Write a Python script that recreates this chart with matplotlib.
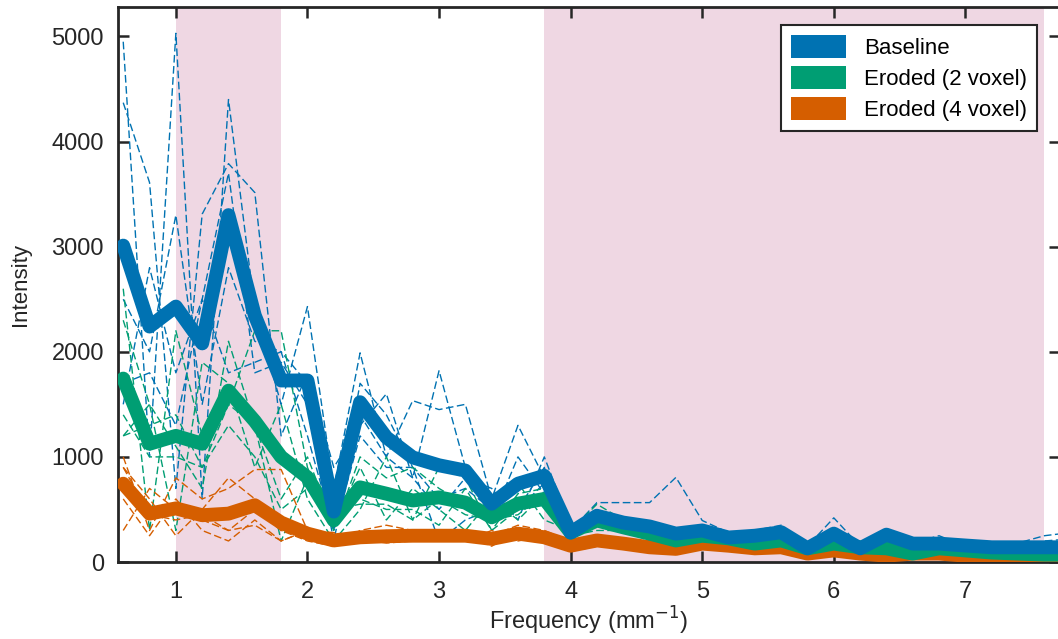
import numpy as np
import matplotlib
matplotlib.use("Agg")
import matplotlib.pyplot as plt
from matplotlib.patches import Patch

plt.rcParams['font.family'] = ['Liberation Sans', 'DejaVu Sans']

# spatial frequency samples (mm^-1)
freq = np.arange(0.6, 7.81, 0.2)

# group means (thick lines)
baseline = [3010, 2240, 2430, 2080, 3300, 2345, 1727, 1727, 480, 1520, 1185, 995, 920,
            870, 555, 745, 820, 280, 440, 375, 338, 270, 300, 233, 250, 283, 130, 270,
            130, 260, 175, 175, 157, 140, 140, 140, 140]
eroded2 = [1745, 1125, 1200, 1125, 1630, 1340, 1000, 805, 395, 710, 650, 585, 615, 565,
           425, 555, 600, 280, 395, 330, 270, 205, 250, 225, 175, 205, 130, 175, 140,
           130, 80, 130, 110, 90, 80, 70, 70]
eroded4 = [745, 460, 510, 445, 460, 540, 375, 270, 205, 235, 245, 250, 250, 250, 220,
           270, 235, 155, 205, 175, 140, 125, 175, 155, 130, 140, 80, 110, 80, 60, 80,
           80, 60, 45, 45, 45, 45]

# individual traces (thin dashed lines)
baseline_subj = [
    [4950, 1000, 5030, 600, 4400, 2400, 1500, 2430, 700, 1990, 1000, 1535, 1450, 1500, 600,
     1300, 800, 300, 565, 565, 565, 805, 395, 280, 300, 350, 150, 420, 150, 300, 200, 150,
     200, 150, 180, 250, 280],
    [4370, 3610, 700, 3310, 3790, 3515, 1200, 1800, 900, 1300, 1600, 800, 1820, 900, 400,
     1000, 650, 250, 420, 300, 250, 200, 280, 150, 250, 280, 120, 330, 100, 280, 180, 250,
     150, 100, 120, 200, 220],
    [2500, 2000, 3300, 1500, 2800, 2100, 2000, 1200, 300, 1700, 1400, 900, 600, 700, 500,
     500, 900, 200, 450, 350, 300, 200, 250, 250, 200, 300, 100, 300, 120, 250, 150, 180,
     130, 160, 150, 100, 120],
    [1500, 2800, 1800, 2500, 3700, 1800, 1900, 1500, 200, 1400, 1000, 800, 500, 800, 700,
     400, 1000, 350, 400, 400, 350, 200, 300, 250, 250, 250, 150, 200, 130, 250, 160, 150,
     160, 150, 140, 80, 60],
    [1700, 1800, 1300, 2500, 1800, 1900, 2000, 1700, 300, 1200, 900, 900, 200, 400, 500,
     500, 750, 300, 350, 300, 200, 150, 250, 200, 250, 200, 100, 150, 150, 200, 170, 150,
     150, 130, 100, 60, 40],
]
eroded2_subj = [
    [2600, 300, 2200, 1200, 1500, 2200, 2200, 900, 300, 1000, 800, 900, 700, 550, 500, 750,
     400, 300, 550, 400, 300, 200, 300, 250, 150, 250, 100, 300, 150, 150, 100, 200, 120,
     150, 100, 80, 90],
    [2300, 1500, 300, 1900, 1700, 900, 1500, 600, 200, 500, 1000, 400, 900, 800, 300, 650,
     700, 250, 400, 350, 250, 150, 200, 200, 200, 300, 150, 200, 120, 150, 150, 100, 100,
     100, 80, 70, 60],
    [1200, 1500, 1100, 700, 2100, 1300, 600, 1000, 350, 900, 400, 700, 500, 300, 600, 400,
     650, 300, 350, 300, 300, 250, 250, 200, 200, 150, 130, 150, 150, 100, 50, 120, 100,
     80, 80, 60, 70],
    [1400, 1000, 1000, 900, 1300, 1000, 500, 700, 600, 600, 500, 500, 350, 700, 300, 500,
     600, 250, 300, 300, 250, 250, 250, 250, 150, 150, 150, 100, 150, 120, 60, 100, 120,
     50, 60, 70, 60],
    [1200, 1300, 1400, 900, 1500, 1300, 200, 800, 500, 550, 550, 400, 600, 450, 400, 450,
     650, 300, 350, 300, 250, 180, 250, 220, 180, 180, 120, 120, 130, 130, 40, 130, 110,
     70, 80, 70, 70],
]
eroded4_subj = [
    [1000, 300, 800, 600, 700, 880, 880, 300, 150, 300, 350, 300, 200, 300, 250, 350, 300,
     200, 250, 200, 150, 100, 200, 150, 150, 150, 80, 150, 80, 60, 100, 80, 60, 50, 50, 40, 40],
    [900, 600, 250, 500, 800, 600, 300, 250, 200, 200, 300, 200, 300, 200, 300, 200, 250,
     150, 200, 150, 150, 150, 150, 200, 100, 150, 60, 100, 100, 50, 60, 100, 50, 40, 50, 50, 40],
    [600, 250, 600, 300, 200, 400, 200, 300, 250, 200, 200, 300, 250, 250, 150, 300, 200,
     100, 150, 200, 100, 100, 150, 150, 150, 120, 100, 80, 60, 70, 80, 60, 70, 50, 40, 50, 50],
    [300, 700, 500, 400, 300, 500, 300, 200, 150, 250, 200, 250, 250, 200, 200, 250, 200,
     150, 220, 150, 150, 130, 180, 120, 120, 140, 80, 120, 80, 60, 80, 80, 60, 40, 40, 40, 50],
    [900, 450, 400, 450, 300, 350, 200, 300, 280, 220, 180, 200, 250, 300, 200, 250, 220,
     170, 200, 170, 150, 140, 190, 150, 130, 140, 80, 100, 80, 60, 80, 80, 60, 45, 45, 45, 45],
]

labels = ['Baseline', 'Eroded (2 voxel)', 'Eroded (4 voxel)']
colors = ['#0072B2', '#009E73', '#D55E00']
bands = [(1.0, 1.8), (3.8, 7.6)]
shade = '#EFD7E3'

fig = plt.figure(figsize=(10.58, 6.39), dpi=100)
ax = fig.add_axes([0.1115, 0.1205, 0.8905, 0.8685])

for lo, hi in bands:
    ax.axvspan(lo, hi, color=shade, lw=0, zorder=0)

for subj, c in zip([baseline_subj, eroded2_subj, eroded4_subj], colors):
    for s in subj:
        ax.plot(freq, s, color=c, lw=1.0, ls=(0, (5.5, 2.5)), zorder=2)

for mean, c in zip([eroded4, eroded2, baseline], colors[::-1]):
    ax.plot(freq, mean, color=c, lw=10, solid_joinstyle='round',
            solid_capstyle='round', zorder=3)

ax.set_xlim(0.56, 7.72)
ax.set_ylim(0, 5280)
ax.set_xticks(range(1, 8))
ax.set_yticks(range(0, 5001, 1000))
ax.tick_params(direction='in', length=8, width=1.8, top=True, right=True,
               labelsize=17, colors='#262626', pad=10)
ax.tick_params(axis='x', pad=14)
for sp in ax.spines.values():
    sp.set_linewidth(2)
    sp.set_color('#262626')

ax.set_xlabel('Frequency (mm$^{-1}$)', fontsize=17, color='#262626', labelpad=1)
ax.set_ylabel('Intensity', fontsize=16, color='#262626', labelpad=15)

handles = [Patch(facecolor=c, edgecolor='none') for c in colors]
leg = ax.legend(handles, labels, loc='upper right', bbox_to_anchor=(0.9875, 0.988),
                fontsize=16, frameon=True, fancybox=False, handlelength=2.5,
                handleheight=1.25, handletextpad=0.8, borderpad=0.45, labelspacing=0.3)
leg.get_frame().set_edgecolor('#262626')
leg.get_frame().set_linewidth(1.5)
leg.get_frame().set_alpha(1)

fig.savefig('out.png', dpi=100)
